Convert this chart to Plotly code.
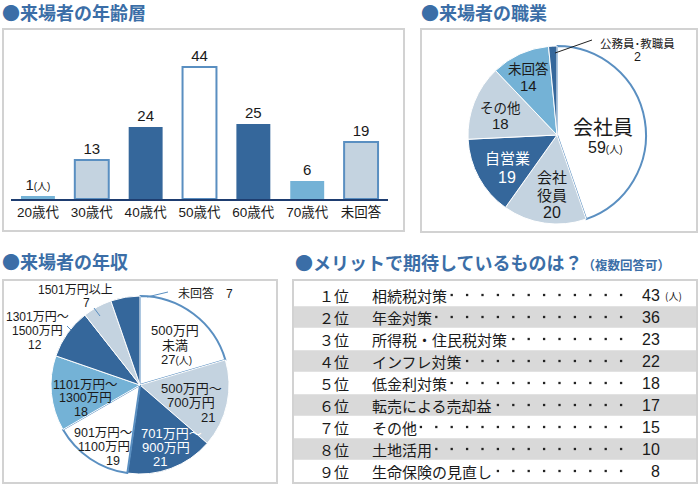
import plotly.graph_objects as go

W, H = 700, 485


def X(px):
    return px / W


def Y(py):
    return 1 - py / H


FONT = "Liberation Sans, Noto Sans CJK JP, sans-serif"
CJK = "Noto Sans CJK JP, sans-serif"
TITLE_BLUE = "#3b6ea7"
DARK = "#35679b"
LIGHT = "#74b2d6"
PALE = "#c4d3e0"
EDGE = "#5a8fc1"
AXIS = "#1e3d70"
TXT = "#1a1a1a"
BOX = "#d2d2d2"
ROWGRAY = "#d9d9d9"

# ---------------- data ----------------
age_categories = ["20歳代", "30歳代", "40歳代", "50歳代", "60歳代", "70歳代", "未回答"]
age_values = [1, 13, 24, 44, 25, 6, 19]

job_labels = ["会社員", "会社役員", "自営業", "その他", "未回答", "公務員･教職員"]
job_values = [59, 20, 19, 18, 14, 2]

income_labels = ["500万円未満", "500万円〜700万円", "701万円〜900万円", "901万円〜1100万円",
                 "1101万円〜1300万円", "1301万円〜1500万円", "1501万円以上", "未回答"]
income_values = [27, 21, 21, 19, 18, 12, 7, 7]

merit_ranks = ["１位", "２位", "３位", "４位", "５位", "６位", "７位", "８位", "９位"]
merit_items = ["相続税対策", "年金対策", "所得税・住民税対策", "インフレ対策", "低金利対策",
               "転売による売却益", "その他", "土地活用", "生命保険の見直し"]
merit_values = [43, 36, 23, 22, 18, 17, 15, 10, 8]

UNIT = "<span style='font-size:10px'>(人)</span>"

fig = go.Figure()

# ---------------- bar chart: age ----------------
bar_fill = [LIGHT, PALE, DARK, "white", DARK, LIGHT, PALE]
bar_line = [LIGHT, EDGE, DARK, EDGE, DARK, LIGHT, EDGE]
bar_lw = [0, 2, 0, 2, 0, 0, 2]
bar_text = [str(v) for v in age_values]
bar_text[0] = bar_text[0] + UNIT
fig.add_trace(go.Bar(
    x=age_categories, y=age_values, text=bar_text, textposition="outside",
    textfont=dict(size=15, color=TXT, family=FONT), cliponaxis=False,
    constraintext="none",
    marker=dict(color=bar_fill, line=dict(color=bar_line, width=bar_lw)),
    xaxis="x", yaxis="y", hoverinfo="x+y", showlegend=False,
))

# ---------------- pie: job ----------------
fig.add_trace(go.Pie(
    labels=job_labels, values=job_values, sort=False, direction="clockwise", rotation=0,
    marker=dict(colors=["white", PALE, DARK, PALE, LIGHT, DARK],
                line=dict(color=[EDGE, "white", "white", "white", "white", "white"],
                          width=[2, 1, 1, 1, 1, 1])),
    textinfo="none", showlegend=False,
    domain=dict(x=[X(468), X(646)], y=[Y(224), Y(46)]),
))

# ---------------- pie: income ----------------
fig.add_trace(go.Pie(
    labels=income_labels, values=income_values, sort=False, direction="clockwise", rotation=0,
    marker=dict(colors=["white", PALE, DARK, "white", LIGHT, DARK, PALE, DARK],
                line=dict(color=[EDGE, "white", "white", EDGE, "white", "white", "white", "white"],
                          width=[2, 1, 1, 2, 1, 1, 1, 1])),
    textinfo="none", showlegend=False,
    domain=dict(x=[X(51), X(229)], y=[Y(474), Y(296)]),
))

# ---------------- table: merits ----------------
rank_pos = list(range(1, len(merit_items) + 1))
gray_rows = [r for r in rank_pos if r % 2 == 0]
TABLE_L, TABLE_R = 294, 696
fig.add_trace(go.Bar(
    y=gray_rows, x=[TABLE_R - TABLE_L] * len(gray_rows), base=TABLE_L,
    orientation="h", width=0.97, marker=dict(color=ROWGRAY, line=dict(width=0)),
    xaxis="x2", yaxis="y2", hoverinfo="skip", showlegend=False,
))

# leader dots on a fixed character grid after each item label
LEADER_LEN = 17
GRID_X0, GRID_STEP = 367, 15.4
dot_x, dot_y = [], []
for r, item in zip(rank_pos, merit_items):
    for k in range(len(item), LEADER_LEN):
        dot_x.append(GRID_X0 + GRID_STEP * (k + 0.5))
        dot_y.append(r)
fig.add_trace(go.Scatter(
    x=dot_x, y=dot_y, mode="markers", marker=dict(symbol="square", size=2.3, color="#222222"),
    xaxis="x2", yaxis="y2", hoverinfo="skip", showlegend=False,
))

for r, rank, item, val in zip(rank_pos, merit_ranks, merit_items, merit_values):
    fig.add_annotation(x=334, y=r, xref="x2", yref="y2", text=rank, showarrow=False,
                       font=dict(size=15, color=TXT, family=CJK), xanchor="center", yanchor="middle")
    fig.add_annotation(x=370, y=r, xref="x2", yref="y2", text=item, showarrow=False,
                       font=dict(size=15, color=TXT, family=CJK), xanchor="left", yanchor="middle")
    fig.add_annotation(x=662, y=r, xref="x2", yref="y2", text=str(val), showarrow=False,
                       font=dict(size=16, color=TXT, family=FONT), xanchor="right", yanchor="middle")
fig.add_annotation(x=663, y=1, xref="x2", yref="y2", text="(人)", showarrow=False,
                   font=dict(size=10, color=TXT, family=CJK), xanchor="left", yanchor="middle")


# ---------------- helpers for text ----------------
def txt(text, x, y, size, color=TXT, anchor="center", family=FONT):
    fig.add_annotation(x=X(x), y=Y(y), xref="paper", yref="paper", text=text, showarrow=False,
                       font=dict(size=size, color=color, family=family),
                       xanchor=anchor, yanchor="middle")


def line(x0, y0, x1, y1, color, width=1):
    fig.add_shape(type="line", xref="paper", yref="paper", x0=X(x0), y0=Y(y0), x1=X(x1), y1=Y(y1),
                  line=dict(color=color, width=width))


def box(x0, y0, x1, y1):
    fig.add_shape(type="rect", xref="paper", yref="paper", x0=X(x0), y0=Y(y0), x1=X(x1), y1=Y(y1),
                  line=dict(color=BOX, width=2), fillcolor="rgba(0,0,0,0)", layer="above")


# titles
txt("<b>●来場者の年齢層</b>", 0, 12, 18, TITLE_BLUE, "left", CJK)
txt("<b>●来場者の職業</b>", 419, 12, 18, TITLE_BLUE, "left", CJK)
txt("<b>●来場者の年収</b>", 0, 261, 18, TITLE_BLUE, "left", CJK)
txt("<b>●メリットで期待しているものは？<span style='font-size:12.5px'>（複数回答可）</span></b>",
    293, 262, 18, TITLE_BLUE, "left", CJK)

# boxes
box(3, 29, 404, 231)
box(421, 29, 697, 232)
box(3, 280, 277, 483)
box(293, 280, 697, 483)

# job pie labels
jv = dict(zip(job_labels, job_values))
txt("会社員", 603, 128, 20)
txt(str(jv["会社員"]) + UNIT, 605, 147, 16)
txt("会社", 552, 177, 15)
txt("役員", 552, 195, 15)
txt(str(jv["会社役員"]), 552, 212, 16)
txt("自営業", 507, 159, 15, "white")
txt(str(jv["自営業"]), 507, 177, 16, "white")
txt("その他", 500, 108, 13.5)
txt(str(jv["その他"]), 500, 124, 15)
txt("未回答", 528, 69, 13.5)
txt(str(jv["未回答"]), 528, 85, 15)
txt("公務員･教職員", 637, 43, 11.5)
txt(str(jv["公務員･教職員"]), 637, 57, 12.5)
line(555, 53, 592, 40, "#222222", 1)

# income pie labels
iv = income_values
txt("500万円", 175, 330, 13)
txt("未満", 175, 345, 13)
txt(str(iv[0]) + UNIT, 177, 359, 13)
txt("500万円〜", 224, 388, 13, anchor="right")
txt("700万円", 217, 402, 13, anchor="right")
txt(str(iv[1]), 217, 417, 13, anchor="right")
txt("701万円〜", 171, 433, 13, "white")
txt("900万円", 166, 447, 13, "white")
txt(str(iv[2]), 160, 461, 13, "white")
txt("901万円〜", 103, 433, 12.5)
txt("1100万円", 104, 447, 12.5)
txt(str(iv[3]), 113, 461, 12.5)
txt("1101万円〜", 85, 385, 12.5)
txt("1300万円", 85, 398, 12.5)
txt(str(iv[4]), 81, 412, 12.5)
txt("1301万円〜", 37, 317, 12)
txt("1500万円", 37, 331, 12)
txt(str(iv[5]), 35, 345, 12)
txt("1501万円以上", 75, 290, 12)
txt(str(iv[6]), 86, 303, 12)
txt("未回答　" + str(iv[7]), 206, 293, 12)
line(147, 297, 168, 292, EDGE, 1)
line(94, 308, 100, 316, EDGE, 1)
line(67, 326, 71, 330, EDGE, 1)

fig.update_layout(
    width=W, height=H, margin=dict(l=0, r=0, t=0, b=0),
    paper_bgcolor="white", plot_bgcolor="white", showlegend=False,
    font=dict(family=FONT, color=TXT),
    bargap=0.37,
    xaxis=dict(domain=[X(11), X(388)], type="category", showline=True, linecolor=AXIS, linewidth=2,
               ticks="", showgrid=False, zeroline=False, fixedrange=True,
               tickfont=dict(size=13.5, color=TXT, family=FONT), anchor="y"),
    yaxis=dict(domain=[Y(199), Y(49)], range=[0, 50], visible=False, fixedrange=True, anchor="x"),
    xaxis2=dict(domain=[X(TABLE_L), X(TABLE_R)], range=[TABLE_L, TABLE_R], visible=False,
                fixedrange=True, anchor="y2"),
    yaxis2=dict(domain=[Y(482), Y(284)], range=[9.5, 0.5], visible=False, fixedrange=True,
                anchor="x2"),
)

fig.write_html("out.html", config={"displayModeBar": False},
               post_script="document.body.style.margin='0px';document.body.style.overflow='hidden';")
